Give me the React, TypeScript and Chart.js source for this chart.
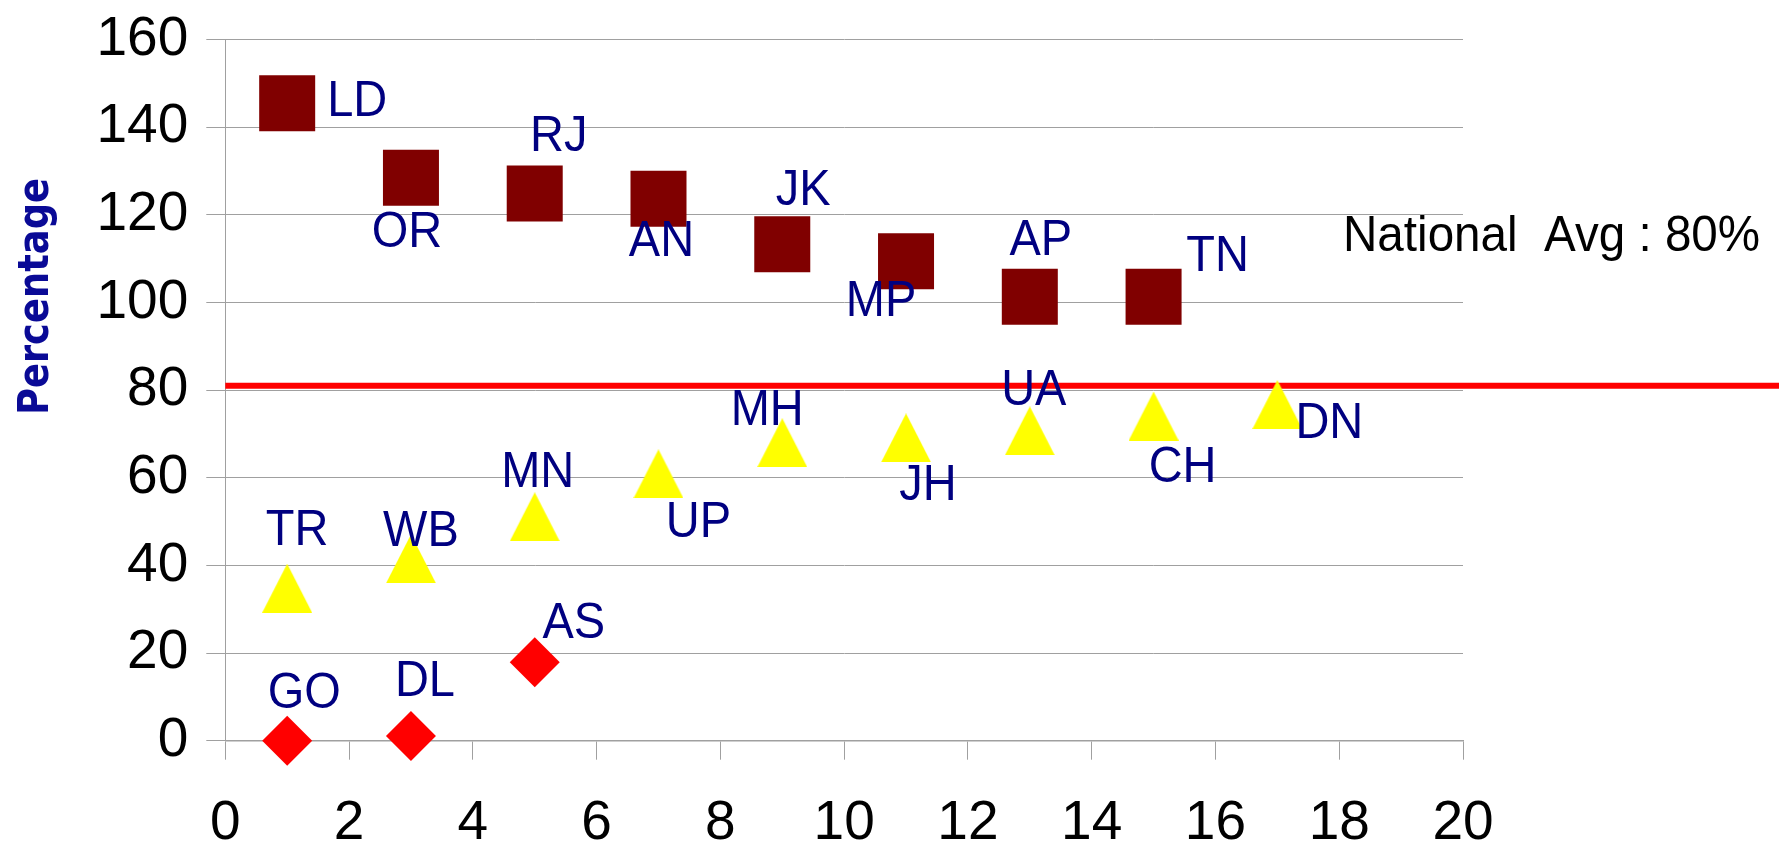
import React, { useEffect, useRef } from 'react';
import { Chart, registerables } from 'chart.js';

Chart.register(...registerables);

// ---- data ----
const squareNames = ['LD', 'OR', 'RJ', 'AN', 'JK', 'MP', 'AP', 'TN'];
const squareX = [1, 3, 5, 7, 9, 11, 13, 15];
const squareY = [145.5, 128.5, 124.9, 123.7, 113.3, 109.4, 101.3, 101.3];

const triangleNames = ['TR', 'WB', 'MN', 'UP', 'MH', 'JH', 'UA', 'CH', 'DN'];
const triangleX = [1, 3, 5, 7, 9, 11, 13, 15, 17];
const triangleY = [34.8, 41.5, 51.1, 60.9, 68.0, 69.1, 70.7, 74.1, 76.7];

const diamondNames = ['GO', 'DL', 'AS'];
const diamondX = [1, 3, 5];
const diamondY = [0, 1.1, 17.9];

const nationalAvgLine = 81;
const nationalAvgText = 'National  Avg : 80%';
const yAxisTitle = 'Percentage';

const xTicks = [0, 2, 4, 6, 8, 10, 12, 14, 16, 18, 20];
const yTicks = [0, 20, 40, 60, 80, 100, 120, 140, 160];

// ---- label offsets (pixels from marker: [dx of text centre, dy of baseline]) ----
const squareLabelOffsets = [
  [70, 13], [-4, 69], [24, -42], [3, 57], [21, -39], [-25, 55], [11, -42], [64, -26],
];
const triangleLabelOffsets = [
  [10, -43], [10, -13], [3, -30], [40, 63], [-15, -18], [22, 62], [4, -26], [29, 66], [52, 33],
];
const diamondLabelOffsets = [
  [17, -33], [14, -40], [39, -24],
];

const NAVY = '#000080';

function makeTriangle(): HTMLCanvasElement {
  const c = document.createElement('canvas');
  c.width = 50;
  c.height = 49;
  const g = c.getContext('2d')!;
  g.fillStyle = '#ffff00';
  g.beginPath();
  g.moveTo(25, 0);
  g.lineTo(50, 49);
  g.lineTo(0, 49);
  g.closePath();
  g.fill();
  return c;
}

export default function App() {
  const ref = useRef<HTMLCanvasElement | null>(null);

  useEffect(() => {
    document.body.style.margin = '0';
    const canvas = ref.current!;
    const tri = makeTriangle();

    const labelSets = [
      { names: squareNames, offsets: squareLabelOffsets },
      { names: triangleNames, offsets: triangleLabelOffsets },
      { names: diamondNames, offsets: diamondLabelOffsets },
    ];

    const overlay = {
      id: 'overlay',
      beforeDatasetsDraw(chart: any) {
        const { ctx, chartArea, scales } = chart;
        const y = scales.y.getPixelForValue(nationalAvgLine);
        ctx.save();
        ctx.strokeStyle = '#ff0000';
        ctx.lineWidth = 6;
        ctx.beginPath();
        ctx.moveTo(chartArea.left, y);
        ctx.lineTo(chart.width - 9, y);
        ctx.stroke();
        ctx.restore();
      },
      afterDatasetsDraw(chart: any) {
        const { ctx } = chart;
        ctx.save();
        ctx.fillStyle = NAVY;
        ctx.font = '47px "Liberation Sans", Arial, sans-serif';
        ctx.textAlign = 'center';
        ctx.textBaseline = 'alphabetic';
        labelSets.forEach((set, di) => {
          const meta = chart.getDatasetMeta(di);
          meta.data.forEach((pt: any, i: number) => {
            const [dx, dy] = set.offsets[i];
            ctx.save();
            ctx.translate(pt.x + dx, pt.y + dy);
            ctx.scale(1, 1.06);
            ctx.fillText(set.names[i], 0, 0);
            ctx.restore();
          });
        });
        // national average text
        ctx.fillStyle = '#000000';
        ctx.textAlign = 'left';
        ctx.font = '47.6px "Liberation Sans", Arial, sans-serif';
        ctx.save();
        ctx.translate(1343, 251);
        ctx.scale(1, 1.06);
        ctx.fillText(nationalAvgText, 0, 0);
        ctx.restore();
        // y axis title
        ctx.save();
        ctx.fillStyle = '#0a0a96';
        ctx.font = 'bold 38px "DejaVu Sans", Verdana, sans-serif';
        ctx.textAlign = 'center';
        ctx.translate(48, 296.5);
        ctx.rotate(-Math.PI / 2);
        ctx.scale(0.97, 1.1);
        ctx.fillText(yAxisTitle, 0, 0);
        ctx.restore();
        ctx.restore();
      },
    };

    const tickFont = { family: '"Liberation Sans", Arial, sans-serif', size: 55 };
    const gridColor = '#a0a0a0';

    const chart = new Chart(canvas, {
      type: 'scatter',
      data: {
        datasets: [
          {
            data: squareX.map((x, i) => ({ x, y: squareY[i] })),
            pointStyle: 'rect',
            pointRadius: 39.6,
            pointHoverRadius: 39.6,
            backgroundColor: '#800000',
            borderColor: '#800000',
            borderWidth: 0,
            clip: false,
          },
          {
            data: triangleX.map((x, i) => ({ x, y: triangleY[i] })),
            pointStyle: tri,
            pointRadius: 25,
            pointHoverRadius: 25,
            backgroundColor: '#ffff00',
            borderWidth: 0,
            clip: false,
          },
          {
            data: diamondX.map((x, i) => ({ x, y: diamondY[i] })),
            pointStyle: 'rectRot',
            pointRadius: 25,
            pointHoverRadius: 25,
            backgroundColor: '#ff0000',
            borderColor: '#ff0000',
            borderWidth: 0,
            clip: false,
          },
        ] as any,
      },
      options: {
        animation: false,
        responsive: false,
        devicePixelRatio: 1,
        events: [],
        layout: { padding: { left: 0, top: 35, right: 325, bottom: 0 } },
        plugins: {
          legend: { display: false },
          tooltip: { enabled: false },
          title: { display: false },
        },
        scales: {
          x: {
            type: 'linear',
            position: 'bottom',
            min: 0,
            max: 20,
            afterBuildTicks: (s: any) => {
              s.ticks = xTicks.map((v) => ({ value: v }));
            },
            afterFit: (s: any) => {
              s.height = 114.3;
              s.paddingLeft = 0;
              s.paddingRight = 0;
            },
            ticks: {
              font: tickFont,
              color: '#000000',
              padding: 31,
              maxRotation: 0,
              autoSkip: false,
            },
            grid: {
              display: true,
              drawOnChartArea: false,
              drawTicks: true,
              tickLength: 19,
              color: gridColor,
              lineWidth: 1,
            },
            border: { display: true, color: gridColor, width: 1.5 },
          },
          y: {
            type: 'linear',
            position: 'left',
            min: 0,
            max: 160,
            afterBuildTicks: (s: any) => {
              s.ticks = yTicks.map((v) => ({ value: v }));
            },
            afterFit: (s: any) => {
              s.width = 225.3;
              s.paddingTop = 0;
              s.paddingBottom = 0;
            },
            ticks: {
              font: tickFont,
              color: '#000000',
              padding: 18,
              autoSkip: false,
            },
            grid: {
              display: true,
              drawOnChartArea: true,
              drawTicks: true,
              tickLength: 19,
              color: gridColor,
              lineWidth: 1,
            },
            border: { display: true, color: gridColor, width: 1 },
          },
        },
      },
      plugins: [overlay],
    } as any);

    return () => chart.destroy();
  }, []);

  return (
    <div style={{ width: 1788, height: 855 }}>
      <canvas ref={ref} width={1788} height={855} style={{ display: 'block', width: 1788, height: 855 }} />
    </div>
  );
}
